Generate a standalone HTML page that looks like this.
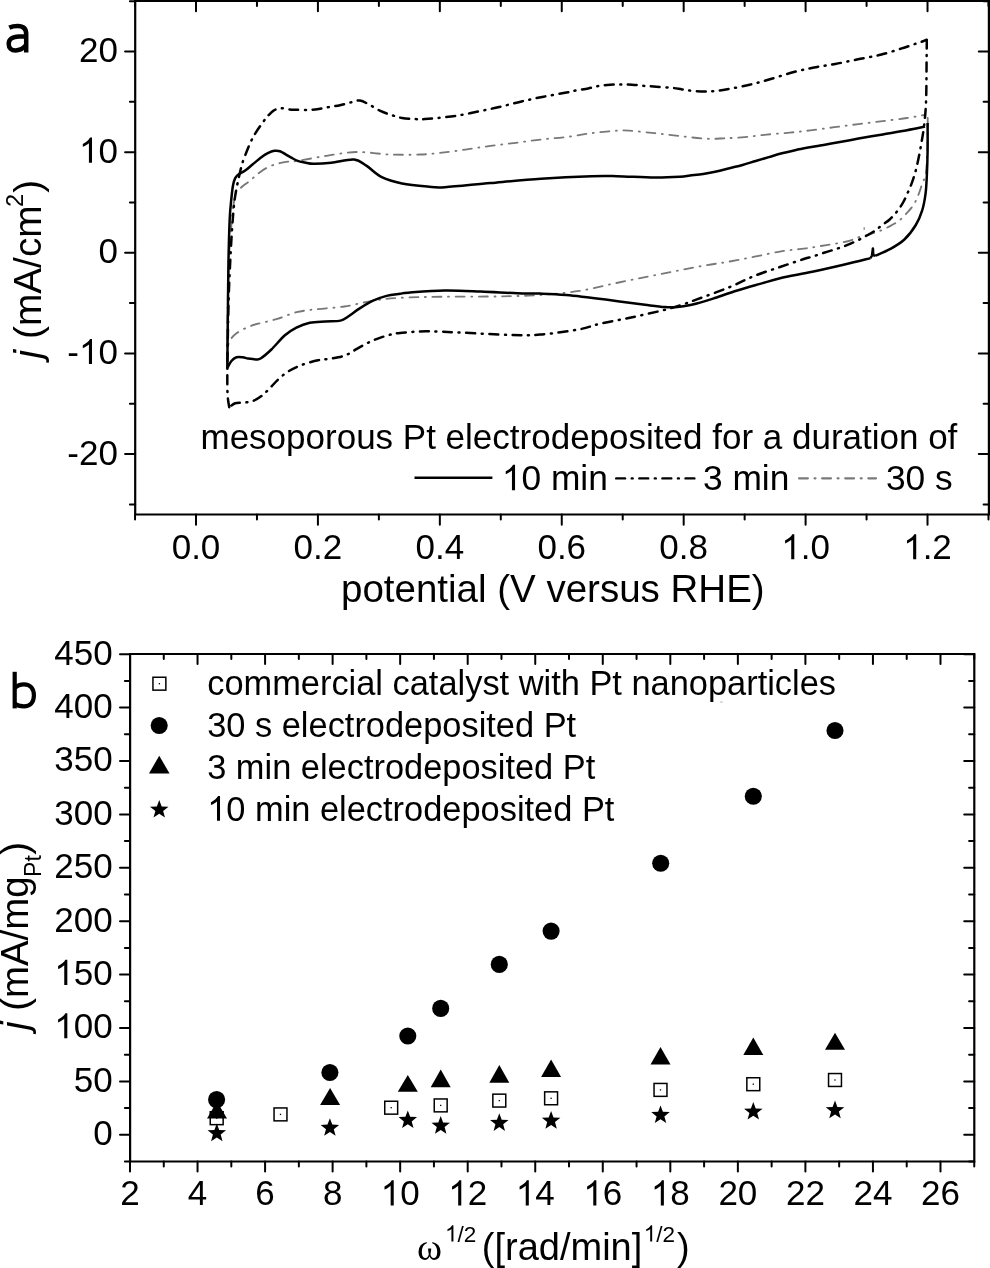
<!DOCTYPE html><html><head><meta charset="utf-8"><style>html,body{margin:0;padding:0;background:#fff;}svg{display:block;will-change:transform;}text{font-family:"Liberation Sans", sans-serif;fill:#000;}.one{fill-opacity:0;}</style></head><body>
<svg width="990" height="1268" viewBox="0 0 990 1268">
<rect width="990" height="1268" fill="#fff"/>
<g stroke="#000" stroke-width="2.2" fill="none" stroke-linecap="square">
<path d="M135.2 1L988.9 1L988.9 514.5L135.2 514.5Z"/>
</g>
<path d="M135.04 514.5V519.5M135.04 1V6M196 514.5V524.7M196 1V11.2M256.96 514.5V519.5M256.96 1V6M317.92 514.5V524.7M317.92 1V11.2M378.88 514.5V519.5M378.88 1V6M439.84 514.5V524.7M439.84 1V11.2M500.8 514.5V519.5M500.8 1V6M561.76 514.5V524.7M561.76 1V11.2M622.72 514.5V519.5M622.72 1V6M683.68 514.5V524.7M683.68 1V11.2M744.64 514.5V519.5M744.64 1V6M805.6 514.5V524.7M805.6 1V11.2M866.56 514.5V519.5M866.56 1V6M927.52 514.5V524.7M927.52 1V11.2M988.48 514.5V519.5M988.48 1V6M135.2 504.43H129.9M988.9 504.43H983.6M135.2 454.1H125.1M988.9 454.1H978.8M135.2 403.77H129.9M988.9 403.77H983.6M135.2 353.45H125.1M988.9 353.45H978.8M135.2 303.12H129.9M988.9 303.12H983.6M135.2 252.8H125.1M988.9 252.8H978.8M135.2 202.48H129.9M988.9 202.48H983.6M135.2 152.15H125.1M988.9 152.15H978.8M135.2 101.83H129.9M988.9 101.83H983.6M135.2 51.5H125.1M988.9 51.5H978.8M135.2 1.18H129.9M988.9 1.18H983.6" stroke="#000" stroke-width="2" fill="none" stroke-linecap="round"/>
<g font-size="35" text-anchor="end">
<text x="117.9" y="62.1">20</text>
<text x="117.9" y="162.75"><tspan class="one">1</tspan>0</text>
<text x="117.9" y="263.4">0</text>
<text x="117.9" y="364.05">-<tspan class="one">1</tspan>0</text>
<text x="117.9" y="464.7">-20</text>
</g>
<g font-size="35" text-anchor="middle">
<text x="196" y="559.3">0.0</text>
<text x="317.92" y="559.3">0.2</text>
<text x="439.84" y="559.3">0.4</text>
<text x="561.76" y="559.3">0.6</text>
<text x="683.68" y="559.3">0.8</text>
<text x="805.6" y="559.3"><tspan class="one">1</tspan>.0</text>
<text x="927.52" y="559.3"><tspan class="one">1</tspan>.2</text>
</g>
<text x="341" y="601.8" font-size="38.5">potential (V versus RHE)</text>
<text transform="translate(41.2 358.4) rotate(-90)" font-size="38.8"><tspan font-style="italic">j</tspan> (mA/cm<tspan font-size="23.5" dx="-1.5" dy="-18.5">2</tspan><tspan dx="1" dy="18.5">)</tspan></text>
<text x="200.5" y="448.5" font-size="35">mesoporous Pt electrodeposited for a duration of</text>
<g font-size="35.3">
<text x="501.9" y="490.2"><tspan class="one">1</tspan>0 min</text>
<text x="703" y="490.2">3 min</text>
<text x="885.9" y="490.2">30 s</text>
</g>
<path d="M414.5 477.7H492.4" stroke="#000" stroke-width="2.4"/>
<path d="M616.2 478.4H695" stroke="#000" stroke-width="2.4" stroke-linecap="round" stroke-dasharray="8.9 6.6 1.0 6.6"/>
<path d="M799 478.3H876" stroke="#7a7a7a" stroke-width="2.2" stroke-linecap="round" stroke-dasharray="8.9 6.6 1.0 6.6"/>
<g fill="none" stroke-linejoin="round">
<path d="M227.3 346.8C227.33 342.33 227.38 329.47 227.5 320C227.62 310.53 227.78 300 228 290C228.22 280 228.37 269.17 228.8 260C229.23 250.83 229.97 243 230.6 235C231.23 227 231.95 218 232.6 212C233.25 206 233.87 202.42 234.5 199C235.13 195.58 236.08 192.75 236.4 191.5L236.4 191.5C237.58 190.52 241.15 187.45 243.5 185.6C245.85 183.75 248.2 182.3 250.5 180.4C252.8 178.5 254.55 176.32 257.3 174.2C260.05 172.08 263.63 169.45 267 167.7C270.37 165.95 274 164.7 277.5 163.7C281 162.7 284.63 162.17 288 161.7C291.37 161.23 291.32 161.88 297.7 160.9C304.08 159.92 316.48 157.28 326.3 155.8C336.12 154.32 346.08 152.22 356.6 152C367.12 151.78 378.88 154.08 389.4 154.5C399.92 154.92 411.27 154.77 419.7 154.5C428.13 154.23 432.4 153.72 440 152.9C447.6 152.08 456.88 150.77 465.3 149.6C473.72 148.43 482.08 147.03 490.5 145.9C498.92 144.77 507.38 143.87 515.8 142.8C524.22 141.73 532.58 140.47 541 139.5C549.42 138.53 557.88 138.05 566.3 137C574.72 135.95 583.08 134.25 591.5 133.2C599.92 132.15 610.48 131.12 616.8 130.7C623.12 130.28 623.1 130.28 629.4 130.7C635.7 131.12 646.17 132.3 654.6 133.2C663.03 134.1 671.38 135.18 680 136.1C688.62 137.02 698.93 138.33 706.3 138.7C713.67 139.07 717.78 138.57 724.2 138.3C730.62 138.03 737.72 137.72 744.8 137.1C751.88 136.48 759.22 135.35 766.7 134.6C774.18 133.85 782.43 133.3 789.7 132.6C796.97 131.9 802.88 131.3 810.3 130.4C817.72 129.5 826.17 128.25 834.2 127.2C842.23 126.15 850.42 125.12 858.5 124.1C866.58 123.08 874.62 122.12 882.7 121.1C890.78 120.08 899.93 119.05 907 118C914.07 116.95 922.08 115.33 925.1 114.8M927.7 118C927.7 121.67 927.83 133 927.7 140C927.57 147 927.22 154.3 926.9 160C926.58 165.7 926.58 170.23 925.8 174.2C925.02 178.17 923.38 180.5 922.2 183.8C921.02 187.1 920.12 190.52 918.7 194C917.28 197.48 915.7 201.52 913.7 204.7C911.7 207.88 909.17 210.4 906.7 213.1C904.23 215.8 901.85 218.65 898.9 220.9C895.95 223.15 892.42 224.83 889 226.6C885.58 228.37 881.65 230.22 878.4 231.5C875.15 232.78 872.73 233.37 869.5 234.3C866.27 235.23 862.38 236 859 237.1C855.62 238.2 852.78 239.87 849.2 240.9C845.62 241.93 841.28 242.6 837.5 243.3C833.72 244 829.98 244.53 826.5 245.1C823.02 245.67 819.95 246.17 816.6 246.7C813.25 247.23 812.5 247.48 806.4 248.3C800.3 249.12 791.57 249.62 780 251.6C768.43 253.58 750.73 257.67 737 260.2C723.27 262.73 710.73 264.4 697.6 266.8C684.47 269.2 671.33 271.98 658.2 274.6C645.07 277.22 631.93 279.78 618.8 282.5C605.67 285.22 592.53 288.82 579.4 290.9C566.27 292.98 553.38 294.08 540 295C526.62 295.92 515.02 296.12 499.1 296.4C483.18 296.68 461.02 296.47 444.5 296.7C427.98 296.93 411.9 297.13 400 297.8C388.1 298.47 382.37 299.25 373.1 300.7C363.83 302.15 353.98 305.07 344.4 306.5C334.82 307.93 323.6 308.35 315.6 309.3C307.6 310.25 302.8 310.6 296.4 312.2C290 313.8 283.6 316.98 277.2 318.9C270.8 320.82 262.53 322.48 258 323.7C253.47 324.92 252.33 325.33 250 326.2C247.67 327.07 246.25 327.72 244 328.9C241.75 330.08 238.6 331.73 236.5 333.3C234.4 334.87 232.93 336.05 231.4 338.3C229.87 340.55 227.98 345.38 227.3 346.8" stroke="#787878" stroke-width="1.85" stroke-linecap="round" stroke-dasharray="8.9 6.6 1.0 6.6"/>
<path d="M229.2 407.2C228.93 405.17 227.92 400.37 227.6 395C227.28 389.63 227.3 382.5 227.3 375C227.3 367.5 227.38 362.5 227.6 350C227.82 337.5 228.15 315 228.6 300C229.05 285 229.73 271.67 230.3 260C230.87 248.33 231.38 239.17 232 230C232.62 220.83 233.3 211.67 234 205C234.7 198.33 235.48 194.17 236.2 190C236.92 185.83 237.77 182.5 238.3 180C238.83 177.5 238.98 176.85 239.4 175C239.82 173.15 240.3 170.92 240.8 168.9C241.3 166.88 241.53 165.52 242.4 162.9C243.27 160.28 244.58 156.77 246 153.2C247.42 149.63 249.35 144.8 250.9 141.5C252.45 138.2 253.28 136.63 255.3 133.4C257.32 130.17 260.78 125.13 263 122.1C265.22 119.07 266.78 117.15 268.6 115.2C270.42 113.25 271.87 111.55 273.9 110.4C275.93 109.25 278.18 108.47 280.8 108.3C283.42 108.13 287.05 109.17 289.6 109.4C292.15 109.63 293 109.6 296.1 109.7C299.2 109.8 304.42 110.13 308.2 110C311.98 109.87 315.27 109.4 318.8 108.9C322.33 108.4 325.87 107.62 329.4 107C332.93 106.38 336.47 105.97 340 105.2C343.53 104.43 347.27 103.17 350.6 102.4C353.93 101.63 356.72 100.13 360 100.6C363.28 101.07 366.82 103.43 370.3 105.2C373.78 106.97 377.37 109.57 380.9 111.2C384.43 112.83 387.97 113.87 391.5 115C395.03 116.13 398.05 117.32 402.1 118C406.15 118.68 412.02 118.92 415.8 119.1C419.58 119.28 421.27 119.27 424.8 119.1C428.33 118.93 431.58 118.68 437 118.1C442.42 117.52 450.13 116.77 457.3 115.6C464.47 114.43 472.68 112.62 480 111.1C487.32 109.58 494.13 108.15 501.2 106.5C508.27 104.85 515.33 102.83 522.4 101.2C529.47 99.57 536.27 98.13 543.6 96.7C550.93 95.27 560.97 93.65 566.4 92.6C571.83 91.55 572.57 91.1 576.2 90.4C579.83 89.7 584.43 89.13 588.2 88.4C591.97 87.67 595.13 86.6 598.8 86C602.47 85.4 606.42 85.07 610.2 84.8C613.98 84.53 617.85 84.42 621.5 84.4C625.15 84.38 628.32 84.45 632.1 84.7C635.88 84.95 640.15 85.57 644.2 85.9C648.25 86.23 651.72 86.37 656.4 86.7C661.08 87.03 668.02 87.45 672.3 87.9C676.58 88.35 678.45 88.87 682.1 89.4C685.75 89.93 690.15 90.75 694.2 91.1C698.25 91.45 702.77 91.52 706.4 91.5C710.03 91.48 712.52 91.37 716 91C719.48 90.63 721.72 90.33 727.3 89.3C732.88 88.27 742.27 86.52 749.5 84.8C756.73 83.08 763.47 81.08 770.7 79C777.93 76.92 785.68 74.22 792.9 72.3C800.12 70.38 806.93 68.88 814 67.5C821.07 66.12 827.98 65.37 835.3 64C842.62 62.63 850.37 60.83 857.9 59.3C865.43 57.77 873.2 56.62 880.5 54.8C887.8 52.98 895.78 50.27 901.7 48.4C907.62 46.53 912.45 44.78 916 43.6C919.55 42.42 921.2 41.95 923 41.3C924.8 40.65 926.17 39.97 926.8 39.7M926.8 39.7C926.77 43.08 926.72 49.95 926.6 60C926.48 70.05 926.5 89.22 926.1 100C925.7 110.78 925.08 116.97 924.2 124.7C923.32 132.43 922.1 139.18 920.8 146.4C919.5 153.62 917.82 162.12 916.4 168C914.98 173.88 913.68 177.72 912.3 181.7C910.92 185.68 909.63 188.43 908.1 191.9C906.57 195.37 904.98 199.2 903.1 202.5C901.22 205.8 899.03 208.87 896.8 211.7C894.57 214.53 892.18 217.25 889.7 219.5C887.22 221.75 884.32 223.37 881.9 225.2C879.48 227.03 877.95 228.65 875.2 230.5C872.45 232.35 868.85 234.4 865.4 236.3C861.95 238.2 858.03 240.25 854.5 241.9C850.97 243.55 847.68 244.88 844.2 246.2C840.72 247.52 837.13 248.65 833.6 249.8C830.07 250.95 826.53 251.97 823 253.1C819.47 254.23 815.73 255.57 812.4 256.6C809.07 257.63 808.4 257.57 803 259.3C797.6 261.03 787.98 264.28 780 267C772.02 269.72 763.57 272.22 755.1 275.6C746.63 278.98 738.9 283.33 729.2 287.3C719.5 291.27 704.97 296.43 696.9 299.4C688.83 302.37 686.18 303.35 680.8 305.1C675.42 306.85 672.68 307.88 664.6 309.9C656.52 311.92 643.07 314.9 632.3 317.2C621.53 319.5 608.82 321.68 600 323.7C591.18 325.72 589.4 327.48 579.4 329.3C569.4 331.12 551.87 333.67 540 334.6C528.13 335.53 521.08 335.22 508.2 334.9C495.32 334.58 476.33 333.3 462.7 332.7C449.07 332.1 437.15 331.22 426.4 331.3C415.65 331.38 404.72 332.5 398.2 333.2C391.68 333.9 390.93 334.52 387.3 335.5C383.67 336.48 379.88 337.75 376.4 339.1C372.92 340.45 369.73 341.93 366.4 343.6C363.07 345.27 359.58 347.28 356.4 349.1C353.22 350.92 350.33 353.13 347.3 354.5C344.27 355.87 341.53 356.53 338.2 357.3C334.87 358.07 330.67 358.6 327.3 359.1C323.93 359.6 321.5 359.58 318 360.3C314.5 361.02 309.87 362.27 306.3 363.4C302.73 364.53 299.83 365.62 296.6 367.1C293.37 368.58 290 370.22 286.9 372.3C283.8 374.38 280.83 376.97 278 379.6C275.17 382.23 272.6 385.4 269.9 388.1C267.2 390.8 264.77 393.58 261.8 395.8C258.83 398.02 255.33 400.27 252.1 401.4C248.87 402.53 245.22 402.28 242.4 402.6C239.58 402.92 237.4 402.53 235.2 403.3C233 404.07 230.2 406.55 229.2 407.2" stroke="#000" stroke-width="2.5" stroke-linecap="round" stroke-dasharray="8.9 6.6 1.0 6.6"/>
<path d="M227.3 368C227.35 363.33 227.48 351.33 227.6 340C227.72 328.67 227.85 313.33 228 300C228.15 286.67 228.22 273.48 228.5 260C228.78 246.52 229.23 229.2 229.7 219.1C230.17 209 230.77 204.92 231.3 199.4C231.83 193.88 232.25 189.55 232.9 186C233.55 182.45 234.1 180.13 235.2 178.1C236.3 176.07 237.83 175.05 239.5 173.8C241.17 172.55 243.03 172.15 245.2 170.6C247.37 169.05 249.8 166.73 252.5 164.5C255.2 162.27 258.85 159.08 261.4 157.2C263.95 155.32 265.65 154.27 267.8 153.2C269.95 152.13 272.27 151.13 274.3 150.8C276.33 150.47 277.98 150.53 280 151.2C282.02 151.87 284.52 153.73 286.4 154.8C288.28 155.87 289.42 156.58 291.3 157.6C293.18 158.62 295.42 160.08 297.7 160.9C299.98 161.72 302.35 162.02 305 162.5C307.65 162.98 309.22 163.75 313.6 163.8C317.98 163.85 324.57 163.52 331.3 162.8C338.03 162.08 348.1 158.98 354 159.5C359.9 160.02 362.07 162.95 366.7 165.9C371.33 168.85 375.92 174.27 381.8 177.2C387.68 180.13 394.42 181.93 402 183.5C409.58 185.07 420.13 185.98 427.3 186.6C434.47 187.22 434.47 187.8 445 187.2C455.53 186.6 474.5 184.42 490.5 183C506.5 181.58 524.17 179.83 541 178.7C557.83 177.57 578.87 176.62 591.5 176.2C604.13 175.78 606.28 175.97 616.8 176.2C627.32 176.43 644.07 177.5 654.6 177.6C665.13 177.7 674.1 177.15 680 176.8C685.9 176.45 686.15 175.98 690 175.5C693.85 175.02 698.72 174.57 703.1 173.9C707.48 173.23 711.92 172.45 716.3 171.5C720.68 170.55 725.03 169.28 729.4 168.2C733.77 167.12 738.12 166.2 742.5 165C746.88 163.8 751.32 162.32 755.7 161C760.08 159.68 764.43 158.38 768.8 157.1C773.17 155.82 777.52 154.45 781.9 153.3C786.28 152.15 790.72 151.15 795.1 150.2C799.48 149.25 804.05 148.38 808.2 147.6C812.35 146.82 815.67 146.25 820 145.5C824.33 144.75 827.78 144.25 834.2 143.1C840.62 141.95 850.42 140.05 858.5 138.6C866.58 137.15 874.62 135.8 882.7 134.4C890.78 133 899.93 131.5 907 130.2C914.07 128.9 922.08 127.2 925.1 126.6M927.6 123C927.6 127.62 927.73 141.75 927.6 150.7C927.47 159.65 927.15 169.45 926.8 176.7C926.45 183.95 926.27 188.58 925.5 194.2C924.73 199.82 923.82 205.27 922.2 210.4C920.58 215.53 918.77 220.15 915.8 225C912.83 229.85 908.72 235.47 904.4 239.5C900.08 243.53 894.73 246.5 889.9 249.2C885.07 251.9 877.82 254.62 875.4 255.7M875.4 255.7L873.3 255.2L872.9 248.4L872 255.5L870.5 258.1M870.5 258.1C866.18 259.17 854.3 262.22 844.6 264.5C834.9 266.78 823.07 269.5 812.3 271.8C801.53 274.1 788.72 276.28 780 278.3C771.28 280.32 767.12 281.87 760 283.9C752.88 285.93 745.12 288.05 737.3 290.5C729.48 292.95 719.32 296.58 713.1 298.6C706.88 300.62 703.77 301.52 700 302.6C696.23 303.68 694.25 304.37 690.5 305.1C686.75 305.83 681.75 306.67 677.5 307C673.25 307.33 670.42 307.47 665 307.1C659.58 306.73 654.88 306.05 645 304.8C635.12 303.55 618.82 301.22 605.7 299.6C592.58 297.98 577.25 296.1 566.3 295.1C555.35 294.1 548.17 293.9 540 293.6C531.83 293.3 527.15 293.65 517.3 293.3C507.45 292.95 493.03 291.97 480.9 291.5C468.77 291.03 456.62 290.3 444.5 290.5C432.38 290.7 415.62 292.15 408.2 292.7C400.78 293.25 403.6 293.27 400 293.8C396.4 294.33 391.08 294.75 386.6 295.9C382.12 297.05 377.58 298.62 373.1 300.7C368.62 302.78 363.85 305.77 359.7 308.4C355.55 311.03 351.4 314.47 348.2 316.5C345 318.53 344.33 319.78 340.5 320.6C336.67 321.42 330.32 321.03 325.2 321.4C320.08 321.77 314.6 321.77 309.8 322.8C305 323.83 300.55 325.52 296.4 327.6C292.25 329.68 289.07 331.65 284.9 335.3C280.73 338.95 275.38 345.68 271.4 349.5C267.42 353.32 263.53 356.55 261 358.2C258.47 359.85 258.35 359.33 256.2 359.4C254.05 359.47 250.33 358.95 248.1 358.6C245.87 358.25 244.73 357.52 242.8 357.3C240.87 357.08 238.4 356.68 236.5 357.3C234.6 357.92 232.93 359.22 231.4 361C229.87 362.78 227.98 366.83 227.3 368" stroke="#000" stroke-width="2.5"/>
<path d="M864.2 227.2V229.8" stroke="#8a8a8a" stroke-width="1.4"/>
</g>
<g fill="none" stroke="#000" stroke-width="4.5"><path d="M9.3 27.6C12 26.3 15 25.9 17.6 25.9C23.5 25.9 26.2 28.8 26.2 34L26.2 52.6"/><path d="M26.2 36.4L19 36.4C12 36.4 8.7 39.6 8.7 43.9C8.7 48.1 11.5 50.4 15.5 50.4C20 50.4 23.6 48 26.2 45"/></g>
<g stroke="#000" stroke-width="2.2" fill="none" stroke-linecap="square">
<path d="M130.1 654L974.3 654L974.3 1161.5L130.1 1161.5Z"/>
</g>
<path d="M130 1161.5V1171.6M130 654V664.1M163.77 1161.5V1166.4M163.77 654V658.9M197.54 1161.5V1171.6M197.54 654V664.1M231.31 1161.5V1166.4M231.31 654V658.9M265.08 1161.5V1171.6M265.08 654V664.1M298.85 1161.5V1166.4M298.85 654V658.9M332.62 1161.5V1171.6M332.62 654V664.1M366.39 1161.5V1166.4M366.39 654V658.9M400.16 1161.5V1171.6M400.16 654V664.1M433.93 1161.5V1166.4M433.93 654V658.9M467.7 1161.5V1171.6M467.7 654V664.1M501.47 1161.5V1166.4M501.47 654V658.9M535.24 1161.5V1171.6M535.24 654V664.1M569.01 1161.5V1166.4M569.01 654V658.9M602.78 1161.5V1171.6M602.78 654V664.1M636.55 1161.5V1166.4M636.55 654V658.9M670.32 1161.5V1171.6M670.32 654V664.1M704.09 1161.5V1166.4M704.09 654V658.9M737.86 1161.5V1171.6M737.86 654V664.1M771.63 1161.5V1166.4M771.63 654V658.9M805.4 1161.5V1171.6M805.4 654V664.1M839.17 1161.5V1166.4M839.17 654V658.9M872.94 1161.5V1171.6M872.94 654V664.1M906.71 1161.5V1166.4M906.71 654V658.9M940.48 1161.5V1171.6M940.48 654V664.1M974.25 1161.5V1166.4M974.25 654V658.9M130.1 1161.5H124.9M974.3 1161.5H969.1M130.1 1134.8H120M974.3 1134.8H964.2M130.1 1108.1H124.9M974.3 1108.1H969.1M130.1 1081.4H120M974.3 1081.4H964.2M130.1 1054.7H124.9M974.3 1054.7H969.1M130.1 1028H120M974.3 1028H964.2M130.1 1001.3H124.9M974.3 1001.3H969.1M130.1 974.6H120M974.3 974.6H964.2M130.1 947.9H124.9M974.3 947.9H969.1M130.1 921.2H120M974.3 921.2H964.2M130.1 894.5H124.9M974.3 894.5H969.1M130.1 867.8H120M974.3 867.8H964.2M130.1 841.1H124.9M974.3 841.1H969.1M130.1 814.4H120M974.3 814.4H964.2M130.1 787.7H124.9M974.3 787.7H969.1M130.1 761H120M974.3 761H964.2M130.1 734.3H124.9M974.3 734.3H969.1M130.1 707.6H120M974.3 707.6H964.2M130.1 680.9H124.9M974.3 680.9H969.1M130.1 654.2H120M974.3 654.2H964.2" stroke="#000" stroke-width="2" fill="none" stroke-linecap="round"/>
<g font-size="35" text-anchor="end">
<text x="112.7" y="1145.1">0</text>
<text x="112.7" y="1091.7">50</text>
<text x="112.7" y="1038.3"><tspan class="one">1</tspan>00</text>
<text x="112.7" y="984.9"><tspan class="one">1</tspan>50</text>
<text x="112.7" y="931.5">200</text>
<text x="112.7" y="878.1">250</text>
<text x="112.7" y="824.7">300</text>
<text x="112.7" y="771.3">350</text>
<text x="112.7" y="717.9">400</text>
<text x="112.7" y="664.5">450</text>
</g>
<g font-size="35" text-anchor="middle">
<text x="130" y="1205.4">2</text>
<text x="197.54" y="1205.4">4</text>
<text x="265.08" y="1205.4">6</text>
<text x="332.62" y="1205.4">8</text>
<text x="400.16" y="1205.4"><tspan class="one">1</tspan>0</text>
<text x="467.7" y="1205.4"><tspan class="one">1</tspan>2</text>
<text x="535.24" y="1205.4"><tspan class="one">1</tspan>4</text>
<text x="602.78" y="1205.4"><tspan class="one">1</tspan>6</text>
<text x="670.32" y="1205.4"><tspan class="one">1</tspan>8</text>
<text x="737.86" y="1205.4">20</text>
<text x="805.4" y="1205.4">22</text>
<text x="872.94" y="1205.4">24</text>
<text x="940.48" y="1205.4">26</text>
</g>
<text x="417" y="1260" font-size="38"><tspan font-family='Liberation Serif'>&#969;</tspan><tspan font-size="22.5" dx="3" dy="-18.5"><tspan class="one">1</tspan>/2</tspan><tspan dx="5.5" dy="18.5">([rad/min]</tspan><tspan font-size="22.5" dx="1.5" dy="-18.5"><tspan class="one">1</tspan>/2</tspan><tspan dx="2" dy="18.5">)</tspan></text>
<text transform="translate(27.8 1030) rotate(-90)" font-size="38.4"><tspan font-style="italic">j</tspan> (mA/mg<tspan font-size="23" dx="-0.5" dy="13.4">Pt</tspan><tspan dx="0.5" dy="-13.4">)</tspan></text>
<g font-size="34.4">
<text x="207.2" y="695.2">commercial catalyst with Pt nanoparticles</text>
<text x="207.2" y="736.8">30 s electrodeposited Pt</text>
<text x="207.2" y="778.9">3 min electrodeposited Pt</text>
<text x="207.2" y="820.7"><tspan class="one">1</tspan>0 min electrodeposited Pt</text>
</g>
<rect x="152.95" y="677.25" width="12.9" height="12.9" fill="#fff" stroke="#000" stroke-width="1.5"/><rect x="158.75" y="683.05" width="1.3" height="1.3" fill="#000"/>
<circle cx="159.2" cy="725.5" r="8.55" fill="#000"/>
<path d="M159.25 755.8L169.55 773.4L148.95 773.4Z" fill="#000"/>
<path d="M159.25 800L161.65 806.42L168.5 806.72L163.14 810.99L164.97 817.6L159.25 813.82L153.53 817.6L155.36 810.99L150 806.72L156.85 806.42Z" fill="#000"/>
<rect x="210.25" y="1111.75" width="12.9" height="12.9" fill="#fff" stroke="#000" stroke-width="1.5"/><rect x="216.05" y="1117.55" width="1.3" height="1.3" fill="#000"/>
<rect x="274.05" y="1107.95" width="12.9" height="12.9" fill="#fff" stroke="#000" stroke-width="1.5"/><rect x="279.85" y="1113.75" width="1.3" height="1.3" fill="#000"/>
<rect x="384.75" y="1101.25" width="12.9" height="12.9" fill="#fff" stroke="#000" stroke-width="1.5"/><rect x="390.55" y="1107.05" width="1.3" height="1.3" fill="#000"/>
<rect x="434.25" y="1098.95" width="12.9" height="12.9" fill="#fff" stroke="#000" stroke-width="1.5"/><rect x="440.05" y="1104.75" width="1.3" height="1.3" fill="#000"/>
<rect x="492.85" y="1094.15" width="12.9" height="12.9" fill="#fff" stroke="#000" stroke-width="1.5"/><rect x="498.65" y="1099.95" width="1.3" height="1.3" fill="#000"/>
<rect x="544.65" y="1091.85" width="12.9" height="12.9" fill="#fff" stroke="#000" stroke-width="1.5"/><rect x="550.45" y="1097.65" width="1.3" height="1.3" fill="#000"/>
<rect x="654.05" y="1083.45" width="12.9" height="12.9" fill="#fff" stroke="#000" stroke-width="1.5"/><rect x="659.85" y="1089.25" width="1.3" height="1.3" fill="#000"/>
<rect x="746.85" y="1077.75" width="12.9" height="12.9" fill="#fff" stroke="#000" stroke-width="1.5"/><rect x="752.65" y="1083.55" width="1.3" height="1.3" fill="#000"/>
<rect x="828.55" y="1073.55" width="12.9" height="12.9" fill="#fff" stroke="#000" stroke-width="1.5"/><rect x="834.35" y="1079.35" width="1.3" height="1.3" fill="#000"/>
<circle cx="216.6" cy="1099.6" r="8.55" fill="#000"/>
<circle cx="329.9" cy="1072.5" r="8.55" fill="#000"/>
<circle cx="407.8" cy="1036" r="8.55" fill="#000"/>
<circle cx="440.7" cy="1008.4" r="8.55" fill="#000"/>
<circle cx="499.3" cy="964.4" r="8.55" fill="#000"/>
<circle cx="551.1" cy="931.1" r="8.55" fill="#000"/>
<circle cx="660.7" cy="863.3" r="8.55" fill="#000"/>
<circle cx="753.3" cy="796.2" r="8.55" fill="#000"/>
<circle cx="835" cy="730.5" r="8.55" fill="#000"/>
<path d="M217 1101.4L227 1118.4L207 1118.4Z" fill="#000"/>
<path d="M330.1 1088L340.1 1105L320.1 1105Z" fill="#000"/>
<path d="M407.8 1075.1L417.8 1091.8L397.8 1091.8Z" fill="#000"/>
<path d="M440.7 1069.6L450.7 1087.3L430.7 1087.3Z" fill="#000"/>
<path d="M499.3 1064.9L509.3 1082.7L489.3 1082.7Z" fill="#000"/>
<path d="M551.1 1059.6L561.1 1077.1L541.1 1077.1Z" fill="#000"/>
<path d="M660.5 1046.9L670.5 1064.4L650.5 1064.4Z" fill="#000"/>
<path d="M753.3 1037.5L763.3 1055.1L743.3 1055.1Z" fill="#000"/>
<path d="M835 1032.7L845 1049.7L825 1049.7Z" fill="#000"/>
<path d="M216.8 1123.6L219.2 1130.02L226.05 1130.32L220.69 1134.59L222.52 1141.2L216.8 1137.42L211.08 1141.2L212.91 1134.59L207.55 1130.32L214.4 1130.02Z" fill="#000"/>
<path d="M329.9 1118.2L332.3 1124.62L339.15 1124.92L333.79 1129.19L335.62 1135.8L329.9 1132.02L324.18 1135.8L326.01 1129.19L320.65 1124.92L327.5 1124.62Z" fill="#000"/>
<path d="M407.8 1110.4L410.2 1116.82L417.05 1117.12L411.69 1121.39L413.52 1128L407.8 1124.22L402.08 1128L403.91 1121.39L398.55 1117.12L405.4 1116.82Z" fill="#000"/>
<path d="M440.7 1116.1L443.1 1122.52L449.95 1122.82L444.59 1127.09L446.42 1133.7L440.7 1129.92L434.98 1133.7L436.81 1127.09L431.45 1122.82L438.3 1122.52Z" fill="#000"/>
<path d="M499.3 1113.3L501.7 1119.72L508.55 1120.02L503.19 1124.29L505.02 1130.9L499.3 1127.12L493.58 1130.9L495.41 1124.29L490.05 1120.02L496.9 1119.72Z" fill="#000"/>
<path d="M551.1 1111.1L553.5 1117.52L560.35 1117.82L554.99 1122.09L556.82 1128.7L551.1 1124.92L545.38 1128.7L547.21 1122.09L541.85 1117.82L548.7 1117.52Z" fill="#000"/>
<path d="M660.5 1105.4L662.9 1111.82L669.75 1112.12L664.39 1116.39L666.22 1123L660.5 1119.22L654.78 1123L656.61 1116.39L651.25 1112.12L658.1 1111.82Z" fill="#000"/>
<path d="M753.3 1102L755.7 1108.42L762.55 1108.72L757.19 1112.99L759.02 1119.6L753.3 1115.82L747.58 1119.6L749.41 1112.99L744.05 1108.72L750.9 1108.42Z" fill="#000"/>
<path d="M835 1100.6L837.4 1107.02L844.25 1107.32L838.89 1111.59L840.72 1118.2L835 1114.42L829.28 1118.2L831.11 1111.59L825.75 1107.32L832.6 1107.02Z" fill="#000"/>
<ellipse cx="721.4" cy="702.1" rx="1.6" ry="0.8" fill="#c8c8c8"/>
<g fill="none" stroke="#000" stroke-width="4.2"><path d="M14.7 671.8L14.7 708.4"/><path d="M14.7 688C17.5 685.2 20.5 684.3 24 684.3C30.5 684.3 33.9 689 33.9 695.5C33.9 702.5 30 706.3 24 706.3C20.5 706.3 17 705.5 14.7 703.8"/></g>
<g fill="#000"><path transform="matrix(0.01709 0 0 -0.01709 78.96 162.75)" d="M763 0H583V1147Q518 1085 412.5 1023Q307 961 223 930V1104Q374 1175 487 1276Q600 1377 647 1472H763Z"/><path transform="matrix(0.01709 0 0 -0.01709 78.96 364.05)" d="M763 0H583V1147Q518 1085 412.5 1023Q307 961 223 930V1104Q374 1175 487 1276Q600 1377 647 1472H763Z"/><path transform="matrix(0.01709 0 0 -0.01709 781.26 559.30)" d="M763 0H583V1147Q518 1085 412.5 1023Q307 961 223 930V1104Q374 1175 487 1276Q600 1377 647 1472H763Z"/><path transform="matrix(0.01709 0 0 -0.01709 903.18 559.30)" d="M763 0H583V1147Q518 1085 412.5 1023Q307 961 223 930V1104Q374 1175 487 1276Q600 1377 647 1472H763Z"/><path transform="matrix(0.01724 0 0 -0.01724 501.90 490.20)" d="M763 0H583V1147Q518 1085 412.5 1023Q307 961 223 930V1104Q374 1175 487 1276Q600 1377 647 1472H763Z"/><path transform="matrix(0.01709 0 0 -0.01709 54.29 1038.30)" d="M763 0H583V1147Q518 1085 412.5 1023Q307 961 223 930V1104Q374 1175 487 1276Q600 1377 647 1472H763Z"/><path transform="matrix(0.01709 0 0 -0.01709 54.29 984.90)" d="M763 0H583V1147Q518 1085 412.5 1023Q307 961 223 930V1104Q374 1175 487 1276Q600 1377 647 1472H763Z"/><path transform="matrix(0.01709 0 0 -0.01709 380.69 1205.40)" d="M763 0H583V1147Q518 1085 412.5 1023Q307 961 223 930V1104Q374 1175 487 1276Q600 1377 647 1472H763Z"/><path transform="matrix(0.01709 0 0 -0.01709 448.23 1205.40)" d="M763 0H583V1147Q518 1085 412.5 1023Q307 961 223 930V1104Q374 1175 487 1276Q600 1377 647 1472H763Z"/><path transform="matrix(0.01709 0 0 -0.01709 515.77 1205.40)" d="M763 0H583V1147Q518 1085 412.5 1023Q307 961 223 930V1104Q374 1175 487 1276Q600 1377 647 1472H763Z"/><path transform="matrix(0.01709 0 0 -0.01709 583.31 1205.40)" d="M763 0H583V1147Q518 1085 412.5 1023Q307 961 223 930V1104Q374 1175 487 1276Q600 1377 647 1472H763Z"/><path transform="matrix(0.01709 0 0 -0.01709 650.85 1205.40)" d="M763 0H583V1147Q518 1085 412.5 1023Q307 961 223 930V1104Q374 1175 487 1276Q600 1377 647 1472H763Z"/><path transform="matrix(0.01099 0 0 -0.01099 445.02 1241.50)" d="M763 0H583V1147Q518 1085 412.5 1023Q307 961 223 930V1104Q374 1175 487 1276Q600 1377 647 1472H763Z"/><path transform="matrix(0.01099 0 0 -0.01099 643.78 1241.50)" d="M763 0H583V1147Q518 1085 412.5 1023Q307 961 223 930V1104Q374 1175 487 1276Q600 1377 647 1472H763Z"/><path transform="matrix(0.01680 0 0 -0.01680 207.20 820.70)" d="M763 0H583V1147Q518 1085 412.5 1023Q307 961 223 930V1104Q374 1175 487 1276Q600 1377 647 1472H763Z"/></g></svg></body></html>
